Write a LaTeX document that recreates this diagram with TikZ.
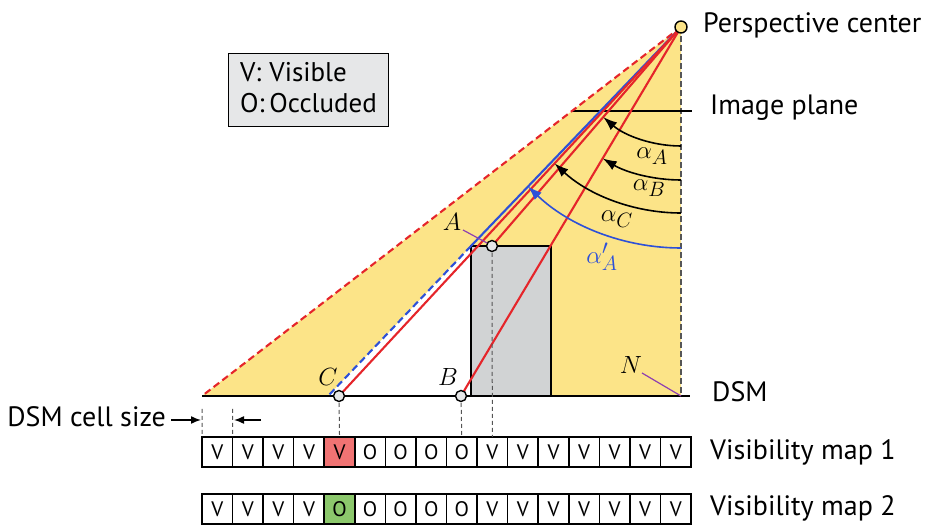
\documentclass[tikz,border=0pt]{standalone}
\usepackage{fontspec}
\setmainfont{PT Sans}
\usepackage{xcolor}
\definecolor{cSun}{HTML}{FCE488}
\definecolor{cRay}{HTML}{E5252A}
\definecolor{cBlue}{HTML}{2D50D8}
\definecolor{cBldg}{HTML}{D1D3D4}
\definecolor{cLegend}{HTML}{E6E7E8}
\definecolor{cDash}{HTML}{555555}
\definecolor{cLead}{HTML}{8E3FB0}
\definecolor{cOcc}{HTML}{F07373}
\definecolor{cVis}{HTML}{8CC86C}
\usetikzlibrary{arrows.meta,positioning,calc}
\tikzset{
  ray/.style={line width=2.1pt,draw=cRay},
  ray-blue/.style={line width=2.1pt,draw=cBlue},
  drop-line/.style={line width=1pt,draw=cDash,dash pattern=on 4pt off 3pt},
  leader/.style={line width=1.2pt,draw=cLead},
  angle-arc/.style={line width=1.6pt,-{Latex[length=14pt,width=10pt]}},
  pt-dot/.style={circle,draw,line width=1.4pt,fill=cLegend,inner sep=0pt,minimum size=11pt},
  map-cell/.style={draw,line width=1.6pt,minimum width=30.56pt,minimum height=30pt,
    inner sep=0pt,outer sep=0pt,font=\fontsize{21}{24}\selectfont},
  txt/.style={font=\fontsize{28}{32}\selectfont,inner sep=0pt,anchor=west},
  pt-label/.style={font=\fontsize{29}{32}\selectfont,inner sep=0pt},
  angle-label/.style={font=\fontsize{29}{32}\selectfont,inner sep=0pt},
}

\begin{document}
\begin{tikzpicture}[x=1pt,y=1pt]
  \useasboundingbox (0,0) rectangle (927,525);
  % key points of the scene
  \coordinate (P) at (681,498);
  \coordinate (L) at (202,129);
  \coordinate (Cb) at (328,129);
  \coordinate (K) at (471,279);
  \coordinate (TR) at (551,279);
  \coordinate (BR) at (551,129);
  \coordinate (BL) at (471,129);
  \coordinate (N) at (681,129);
  \coordinate (A) at (492,279);
  \coordinate (B) at (461,129);
  \coordinate (C) at (339,129);
  \coordinate (E) at (690,129);
  % lit area and building
  \fill[cSun] (P) -- (L) -- (Cb) -- (K) -- (TR) -- (BR) -- (N) -- cycle;
  \draw[fill=cBldg,line width=2pt] (BL) rectangle (TR);
  \draw[line width=2pt,draw=cDash,dash pattern=on 6pt off 3pt] (P) -- (N);
  \draw[line width=2.2pt] (L) -- (E);
  % image plane
  \coordinate (ip-l) at (572,414);
  \coordinate (ip-r) at (692,414);
  \draw[line width=2.2pt] (ip-l) -- (ip-r);
  % rays
  \draw[ray,dash pattern=on 7pt off 4pt] (P) -- (L);
  \draw[ray-blue] (P) -- (K);
  \draw[ray-blue,dash pattern=on 7pt off 4pt] (K) -- (Cb);
  \draw[ray] (P) -- (C);
  \draw[ray] (P) -- (A);
  \draw[ray] (P) -- (B);
  % angles
  \draw[angle-arc] ($(P)+(0,-119)$) arc[start angle=-90,end angle=-130.79,radius=119];
  \draw[angle-arc] ($(P)+(0,-153)$) arc[start angle=-90,end angle=-120.80,radius=153];
  \draw[angle-arc] ($(P)+(0,-186)$) arc[start angle=-90,end angle=-132.82,radius=186];
  \draw[angle-arc,color=cBlue] ($(P)+(0,-221)$) arc[start angle=-90,end angle=-133.80,radius=221];
  \node[angle-label] (aA) at (652,369) {$\alpha_A$};
  \node[angle-label] (aB) at (649,337) {$\alpha_B$};
  \node[angle-label] (aC) at (617,306) {$\alpha_C$};
  \node[angle-label,text=cBlue] (aA2) at (602,268) {$\alpha'_A$};
  % visibility maps
  \foreach \t/\c [count=\i] in {V/white,V/white,V/white,V/white,V/cOcc,O/white,O/white,O/white,
      O/white,V/white,V/white,V/white,V/white,V/white,V/white,V/white}
    \node[map-cell,fill=\c] (m1-\i) at ({202+30.5625*(\i-0.5)},73) {\t};
  \foreach \t/\c [count=\i] in {V/white,V/white,V/white,V/white,O/cVis,O/white,O/white,O/white,
      O/white,V/white,V/white,V/white,V/white,V/white,V/white,V/white}
    \node[map-cell,fill=\c] (m2-\i) at ({202+30.5625*(\i-0.5)},16) {\t};
  % drop lines
  \draw[drop-line] (C) -- (m1-5.north);
  \draw[drop-line] (B) -- (m1-9.north);
  \draw[drop-line] (A) -- (m1-10.north);
  \coordinate (cw-l) at (202,116);
  \coordinate (cw-r) at (232.56,116);
  \draw[drop-line] (cw-l) -- (m1-1.north west);
  \draw[drop-line] (cw-r) -- (m1-1.north east);
  \coordinate (cs-l) at (171,105);
  \coordinate (cs-lt) at (201,105);
  \coordinate (cs-r) at (261,105);
  \coordinate (cs-rt) at (234,105);
  \draw[line width=1.5pt,-{Latex[length=10pt,width=8pt]}] (cs-l) -- (cs-lt);
  \draw[line width=1.5pt,-{Latex[length=10pt,width=8pt]}] (cs-r) -- (cs-rt);
  \node[txt,anchor=east] (cs) at (166,108) {DSM cell size};
  % points
  \node[pt-dot,fill=cSun,minimum size=12pt] (p-dot) at (P) {};
  \node[pt-dot] (a-dot) at (A) {};
  \node[pt-dot] (b-dot) at (B) {};
  \node[pt-dot] (c-dot) at (C) {};
  % point labels
  \node[pt-label] (a-lbl) at (452,303) {$A$};
  \node[pt-label] (b-lbl) at (448,148) {$B$};
  \node[pt-label] (c-lbl) at (328,148) {$C$};
  \node[pt-label] (n-lbl) at (631,160) {$N$};
  \coordinate (a-lead) at (463,295);
  \coordinate (a-end) at (487,282);
  \coordinate (n-lead) at (642,152);
  \draw[leader] (a-lead) -- (a-end);
  \draw[leader] (n-lead) -- (N);
  % legend
  \node[draw,line width=1.8pt,fill=cLegend,minimum width=160pt,minimum height=73pt,
    inner sep=1pt,font=\fontsize{27}{33}\selectfont] (legend) at (308.5,435)
    {\begin{tabular}{@{}l@{\hspace{5pt}}l@{}}V: & Visible\\[-2pt] O: & Occluded\end{tabular}};
  % names
  \node[txt] (pc) at (703,500) {Perspective center};
  \node[txt] (ip) at (710,417) {Image plane};
  \node[txt] (dsm) at (712,133) {DSM};
  \node[txt] (vm1) at (710,73) {Visibility map 1};
  \node[txt] (vm2) at (710,17) {Visibility map 2};
\end{tikzpicture}
\end{document}
